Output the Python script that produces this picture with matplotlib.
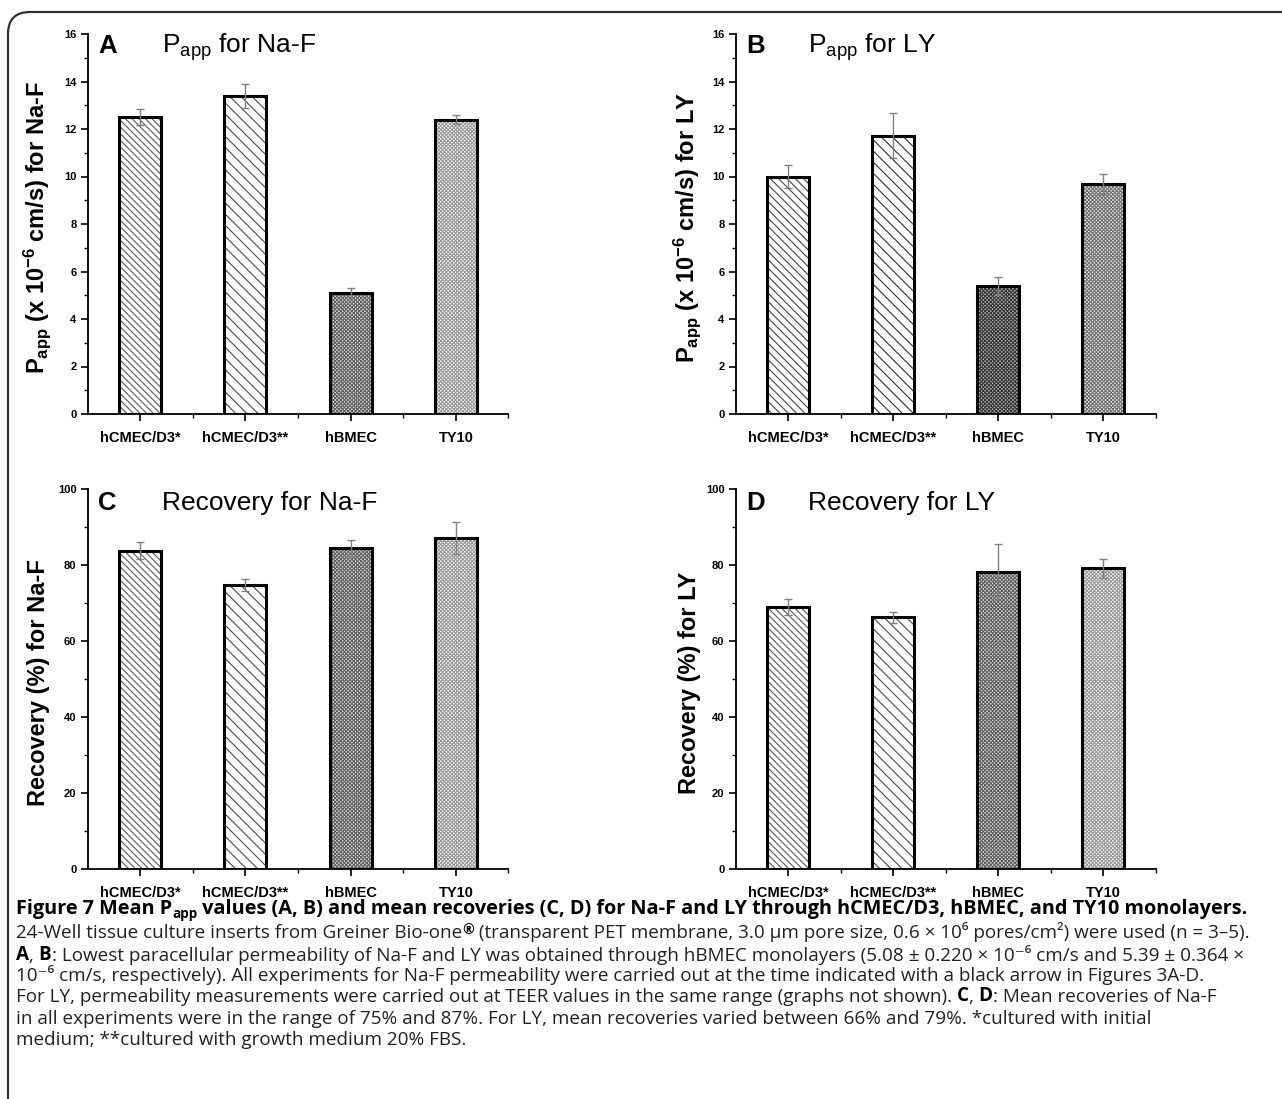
import matplotlib
matplotlib.use("Agg")
import matplotlib.pyplot as plt
from matplotlib.patches import FancyBboxPatch
from matplotlib.text import Annotation
from matplotlib.ticker import MultipleLocator, FixedLocator
import numpy as np

# ---------------- data ----------------
categories = ['hCMEC/D3*', 'hCMEC/D3**', 'hBMEC', 'TY10']

papp_naf = [12.5, 13.4, 5.08, 12.4]
papp_naf_err = [0.33, 0.50, 0.22, 0.17]

papp_ly = [10.0, 11.72, 5.39, 9.70]
papp_ly_err = [0.50, 0.94, 0.36, 0.42]

rec_naf = [83.8, 74.8, 84.5, 87.1]
rec_naf_err = [2.3, 1.6, 2.1, 4.3]

rec_ly = [68.9, 66.2, 78.2, 79.2]
rec_ly_err = [2.1, 1.5, 7.3, 2.5]

W, H = 1282, 1099
plt.rcParams['hatch.linewidth'] = 0.8

PANEL_FONT = 'Liberation Sans'
CAP_FONT = ['Open Sans', 'DejaVu Sans']

fig = plt.figure(figsize=(W / 100, H / 100), dpi=100)


def px_axes(l, t, r, b):
    return fig.add_axes([l / W, 1 - b / H, (r - l) / W, (b - t) / H])


# hatch styles per category: (hatch, hatch colour, face colour)
styles_light = [('\\' * 5, '#5a5a5a', 'white'),
                ('\\' * 3, '#4a4a4a', 'white'),
                ('x' * 9, '#606060', '#e0e0e0'),
                ('x' * 9, '#9a9a9a', 'white')]
styles_dark = [('\\' * 4, '#444444', 'white'),
               ('\\' * 3, '#333333', 'white'),
               ('x' * 9, '#383838', '#b8b8b8'),
               ('x' * 9, '#707070', '#f0f0f0')]


def panel(ax, vals, errs, ymax, major, minor, letter, title, ylabel,
          styles, letter_px, title_px, ylab_x):
    x = np.arange(len(categories))
    for i in range(len(categories)):
        h, hc, fc = styles[i]
        ax.bar(x[i], vals[i], width=0.4, facecolor=fc, edgecolor=hc,
               hatch=h, linewidth=0, zorder=2)
    ax.bar(x, vals, width=0.4, fill=False, edgecolor='black',
           linewidth=2.2, zorder=3)
    ax.errorbar(x, vals, yerr=errs, fmt='none', ecolor='#808080',
                elinewidth=1.0, capsize=3, capthick=1.0, zorder=4)
    ax.set_xlim(-0.5, 3.5)
    ax.set_ylim(0, ymax)
    for s in ['top', 'right']:
        ax.spines[s].set_visible(False)
    for s in ['left', 'bottom']:
        ax.spines[s].set_linewidth(1.3)
    ax.yaxis.set_major_locator(MultipleLocator(major))
    ax.yaxis.set_minor_locator(MultipleLocator(minor))
    ax.xaxis.set_major_locator(FixedLocator(x))
    ax.xaxis.set_minor_locator(FixedLocator([0.5, 1.5, 2.5, 3.5]))
    ax.tick_params(axis='both', which='major', direction='out', length=5,
                   width=1.2)
    ax.tick_params(axis='both', which='minor', direction='out', length=3,
                   width=1.0)
    ax.tick_params(axis='y', pad=3)
    ax.tick_params(axis='x', pad=7)
    ax.set_xticklabels(categories)
    for lab in ax.get_xticklabels():
        lab.set_fontfamily(PANEL_FONT)
        lab.set_fontweight('bold')
        lab.set_fontsize(10.5)
    ax.set_yticks(ax.get_yticks())
    ax.set_yticklabels([f'{int(v)}' for v in ax.get_yticks()])
    for lab in ax.get_yticklabels():
        lab.set_fontfamily(PANEL_FONT)
        lab.set_fontweight('bold')
        lab.set_fontsize(8)
    ax.set_ylim(0, ymax)
    ax.set_ylabel(ylabel, fontfamily=PANEL_FONT, fontweight='bold',
                  fontsize=17)
    ax.yaxis.set_label_coords(ylab_x, 0.49)
    fig.text(letter_px[0] / W, 1 - letter_px[1] / H, letter,
             fontfamily=PANEL_FONT, fontweight='bold', fontsize=18.5,
             va='baseline', ha='left')
    fig.text(title_px[0] / W, 1 - title_px[1] / H, title,
             fontfamily=PANEL_FONT, fontsize=19, va='baseline', ha='left')


axA = px_axes(87.5, 34, 508.5, 414)
axB = px_axes(735.5, 34, 1155.5, 414)
axC = px_axes(87.5, 489, 508.5, 869)
axD = px_axes(735.5, 489, 1155.5, 869)

panel(axA, papp_naf, papp_naf_err, 16, 2, 1, 'A',
      r'$\mathregular{P_{app}}$ for Na-F',
      r'$\mathregular{P_{app}}$ (x $\mathregular{10^{-6}}$ cm/s) for Na-F',
      styles_light, (98, 53), (162, 53), -0.081)
panel(axB, papp_ly, papp_ly_err, 16, 2, 1, 'B',
      r'$\mathregular{P_{app}}$ for LY',
      r'$\mathregular{P_{app}}$ (x $\mathregular{10^{-6}}$ cm/s) for LY',
      styles_dark, (746, 53), (808, 53), -0.078)
panel(axC, rec_naf, rec_naf_err, 100, 20, 10, 'C',
      'Recovery for Na-F', 'Recovery (%) for Na-F',
      styles_light, (98, 510), (162, 510), -0.088)
panel(axD, rec_ly, rec_ly_err, 100, 20, 10, 'D',
      'Recovery for LY', 'Recovery (%) for LY',
      styles_light, (746, 510), (808, 510), -0.081)

# ---------------- border ----------------
border = FancyBboxPatch((0.08, -1.0), 14.0, (H - 12) / 100 + 1.0,
                        boxstyle='round,pad=0,rounding_size=0.22',
                        transform=fig.dpi_scale_trans, fill=False,
                        linewidth=1.6, edgecolor='#333333')
fig.add_artist(border)

# ---------------- caption ----------------
FS = 13.6
FSB = 14.3


def chain(parts, ypx, x0=16):
    """parts: list of (text, weight, size, kind) with kind in
    'n' (normal), 'sup' (superscript), 'sub' (subscript)."""
    first = None
    prev = None
    for txt, wt, size, kind in parts:
        col = 'black' if wt == 'bold' else '#222222'
        if first is None:
            t = fig.text(x0 / W, 1 - ypx / H, txt, fontfamily=CAP_FONT,
                         fontweight=wt, fontsize=size, va='baseline',
                         ha='left', color=col)
            first = t
        else:
            if kind == 'sup':
                xy, va, dy = (1, 1), 'top', 1
            elif kind == 'sub':
                xy, va, dy = (1, 0), 'bottom', -1.5
            else:
                xy, va, dy = (1, 0), 'bottom', 0
            t = Annotation(txt, xy=xy, xycoords=(prev, first),
                           xytext=(0, dy), textcoords='offset points',
                           fontfamily=CAP_FONT, fontweight=wt,
                           fontsize=size, va=va, ha='left', color=col)
            fig.add_artist(t)
        prev = t


chain([('Figure 7 Mean P', 'bold', FSB, 'n'),
       ('app', 'bold', FSB * 0.68, 'sub'),
       (' values (A, B) and mean recoveries (C, D) for Na-F and LY through hCMEC/D3, hBMEC, and TY10 monolayers.', 'bold', FSB, 'n')],
      914)
chain([('24-Well tissue culture inserts from Greiner Bio-one', 'normal', FS, 'n'),
       ('®', 'bold', FS * 0.75, 'sup'),
       (' (transparent PET membrane, 3.0 µm pore size, 0.6 × 10⁶ pores/cm²) were used (n = 3–5).', 'normal', FS, 'n')],
      938)
chain([('A', 'bold', FS, 'n'),
       (', ', 'normal', FS, 'n'),
       ('B', 'bold', FS, 'n'),
       (': Lowest paracellular permeability of Na-F and LY was obtained through hBMEC monolayers (5.08 ± 0.220 × 10⁻⁶ cm/s and 5.39 ± 0.364 ×', 'normal', FS, 'n')],
      960)
chain([('10⁻⁶ cm/s, respectively). All experiments for Na-F permeability were carried out at the time indicated with a black arrow in Figures 3A-D.', 'normal', FS, 'n')],
      981)
chain([('For LY, permeability measurements were carried out at TEER values in the same range (graphs not shown). ', 'normal', FS, 'n'),
       ('C', 'bold', FS, 'n'),
       (', ', 'normal', FS, 'n'),
       ('D', 'bold', FS, 'n'),
       (': Mean recoveries of Na-F', 'normal', FS, 'n')],
      1002)
chain([('in all experiments were in the range of 75% and 87%. For LY, mean recoveries varied between 66% and 79%. *cultured with initial', 'normal', FS, 'n')],
      1024)
chain([('medium; **cultured with growth medium 20% FBS.', 'normal', FS, 'n')],
      1045)

fig.savefig('out.png', dpi=100)
